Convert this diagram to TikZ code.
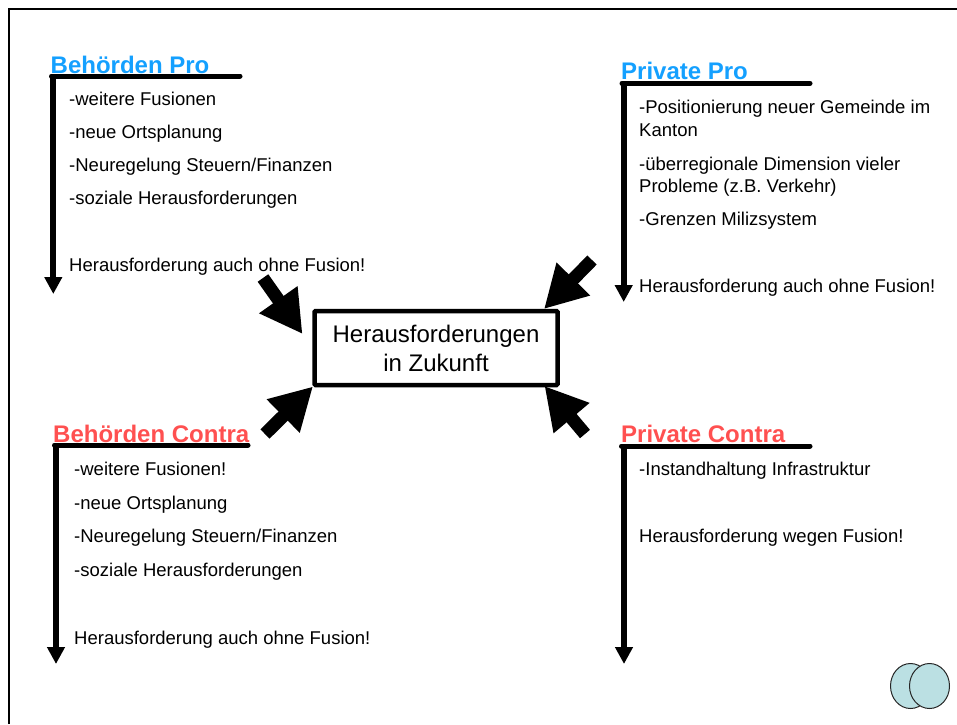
\documentclass[tikz,border=0pt]{standalone}
\usepackage{fontspec}
\setmainfont{Liberation Sans}
\usetikzlibrary{arrows.meta,shapes.geometric}
\definecolor{problue}{RGB}{20,160,255}
\definecolor{conred}{RGB}{255,80,80}
\definecolor{disc}{RGB}{187,224,227}
\tikzset{
  frameline/.style={line width=2pt,black},
  heading/.style={anchor=base west,inner sep=0pt,font=\bfseries\fontsize{24}{26}\selectfont},
  bodytext/.style={anchor=base west,inner sep=0pt,font=\fontsize{18.5}{22}\selectfont,text=black},
  rail/.style={line width=6pt,-{Triangle[length=17pt,width=17pt]}},
  railtop/.style={line width=5pt,line cap=round},
  bigarrow/.style={line width=13pt,-{Triangle[length=42pt,width=44pt]}},
  centerbox/.style={draw,line width=4.5pt,rounded corners=1pt,minimum width=243pt,minimum height=74pt,align=center,font=\fontsize{24}{29}\selectfont,inner sep=0pt},
  discshape/.style={draw=black!85,line width=1pt,fill=disc,ellipse,minimum width=40pt,minimum height=45pt,inner sep=0pt}
}
\begin{document}
\begin{tikzpicture}[x=1pt,y=-1pt]
\useasboundingbox (0,0) rectangle (957,724);
\coordinate (fa) at (9,724);
\coordinate (fb) at (9,9);
\coordinate (fc) at (957,9);
\draw[frameline] (fa) -- (fb) -- (fc);
% Behoerden Pro
\node[heading,text=problue] (hbp) at (50.5,73) {Behörden Pro};
\coordinate (bp0) at (51.5,76);
\coordinate (bp1) at (240,76);
\coordinate (bpv) at (53.3,76);
\coordinate (bp2) at (53.3,294);
\draw[railtop] (bp0) -- (bp1);
\draw[rail] (bpv) -- (bp2);
\node[bodytext] (t1) at (69,105) {-weitere Fusionen};
\node[bodytext] (t2) at (69,138) {-neue Ortsplanung};
\node[bodytext] (t3) at (69,171) {-Neuregelung Steuern/Finanzen};
\node[bodytext] (t4) at (69,204) {-soziale Herausforderungen};
\node[bodytext] (t5) at (69,271) {Herausforderung auch ohne Fusion!};
% Private Pro
\node[heading,text=problue] (hpp) at (621,79) {Private Pro};
\coordinate (pp0) at (622,83.3);
\coordinate (pp1) at (810,83.3);
\coordinate (ppv) at (623.7,83.3);
\coordinate (pp2) at (623.7,302);
\draw[railtop] (pp0) -- (pp1);
\draw[rail] (ppv) -- (pp2);
\node[bodytext] (u1) at (639,113) {-Positionierung neuer Gemeinde im};
\node[bodytext] (u1b) at (639,136) {Kanton};
\node[bodytext] (u2) at (639,170) {-überregionale Dimension vieler};
\node[bodytext] (u2b) at (639,192) {Probleme (z.B. Verkehr)};
\node[bodytext] (u3) at (639,225) {-Grenzen Milizsystem};
\node[bodytext] (u4) at (639,292) {Herausforderung auch ohne Fusion!};
% Behoerden Contra
\node[heading,text=conred] (hbc) at (53,442) {Behörden Contra};
\coordinate (bc0) at (54.5,445);
\coordinate (bc1) at (248,445);
\coordinate (bcv) at (56,445);
\coordinate (bc2) at (56,664);
\draw[railtop] (bc0) -- (bc1);
\draw[rail] (bcv) -- (bc2);
\node[bodytext] (v1) at (74,475) {-weitere Fusionen!};
\node[bodytext] (v2) at (74,509) {-neue Ortsplanung};
\node[bodytext] (v3) at (74,542) {-Neuregelung Steuern/Finanzen};
\node[bodytext] (v4) at (74,576) {-soziale Herausforderungen};
\node[bodytext] (v5) at (74,644) {Herausforderung auch ohne Fusion!};
% Private Contra
\node[heading,text=conred] (hpc) at (621,442) {Private Contra};
\coordinate (pc0) at (621.5,446);
\coordinate (pc1) at (810,446);
\coordinate (pcv) at (624,446);
\coordinate (pc2) at (624,664);
\draw[railtop] (pc0) -- (pc1);
\draw[rail] (pcv) -- (pc2);
\node[bodytext] (w1) at (639,475) {-Instandhaltung Infrastruktur};
\node[bodytext] (w2) at (639,542) {Herausforderung wegen Fusion!};
% Centre
\node[centerbox] (c) at (436,348) {Herausforderungen\\in Zukunft};
\coordinate (a1s) at (263,278);
\coordinate (a1e) at (302.5,334);
\coordinate (a2s) at (592,260);
\coordinate (a2e) at (544,309);
\coordinate (a3s) at (265,434);
\coordinate (a3e) at (313,386.5);
\coordinate (a4s) at (585,434);
\coordinate (a4e) at (544.5,386);
\draw[bigarrow] (a1s) -- (a1e);
\draw[bigarrow] (a2s) -- (a2e);
\draw[bigarrow] (a3s) -- (a3e);
\draw[bigarrow] (a4s) -- (a4e);
% Discs
\node[discshape] (d1) at (910.5,686) {};
\node[discshape] (d2) at (929.5,686) {};
\end{tikzpicture}
\end{document}
